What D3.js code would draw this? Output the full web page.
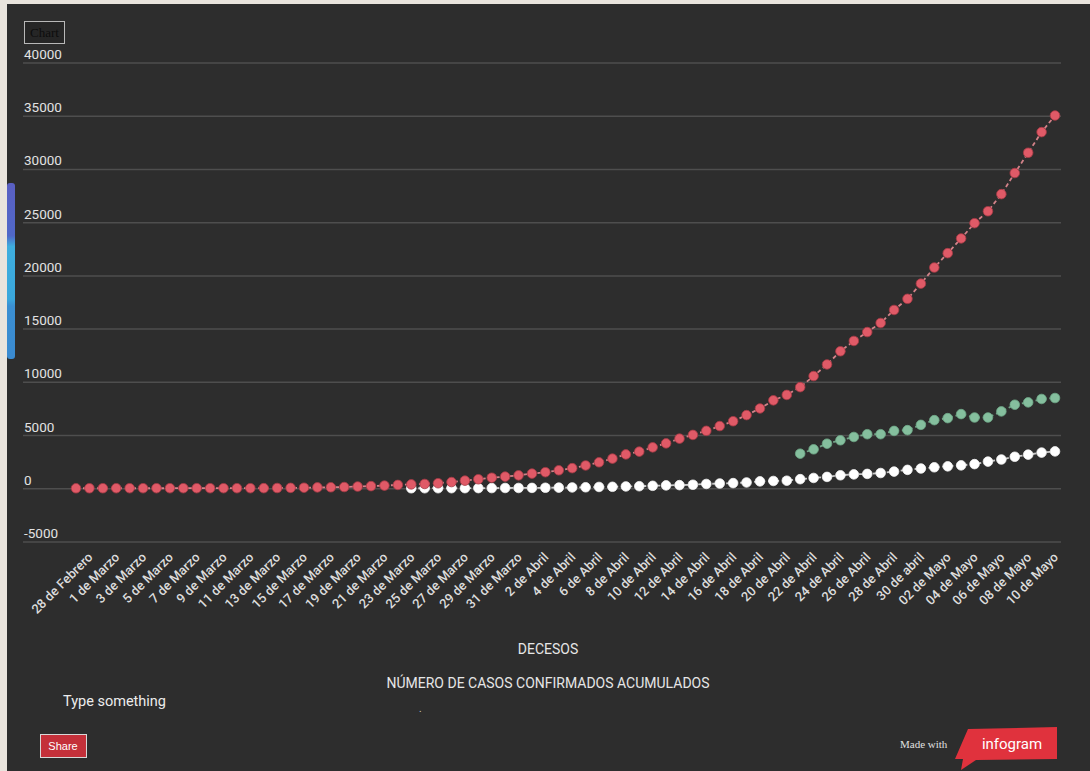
<!DOCTYPE html>
<html>
<head>
<meta charset="utf-8">
<script src="https://cdn.jsdelivr.net/npm/d3@7"></script>
<style>
  html, body { margin: 0; padding: 0; background: #e9e4dd; }
  svg { display: block; }
</style>
</head>
<body>
<svg id="chart" width="1090" height="771"></svg>
<script>
// categorias del eje x (una por dia, se rotula uno si y uno no)
const dias = [
  "28 de Febrero", "29 de Febrero",
  "1 de Marzo", "2 de Marzo", "3 de Marzo", "4 de Marzo", "5 de Marzo", "6 de Marzo", "7 de Marzo",
  "8 de Marzo", "9 de Marzo", "10 de Marzo", "11 de Marzo", "12 de Marzo", "13 de Marzo", "14 de Marzo",
  "15 de Marzo", "16 de Marzo", "17 de Marzo", "18 de Marzo", "19 de Marzo", "20 de Marzo", "21 de Marzo",
  "22 de Marzo", "23 de Marzo", "24 de Marzo", "25 de Marzo", "26 de Marzo", "27 de Marzo", "28 de Marzo",
  "29 de Marzo", "30 de Marzo", "31 de Marzo",
  "1 de Abril", "2 de Abril", "3 de Abril", "4 de Abril", "5 de Abril", "6 de Abril", "7 de Abril",
  "8 de Abril", "9 de Abril", "10 de Abril", "11 de Abril", "12 de Abril", "13 de Abril", "14 de Abril",
  "15 de Abril", "16 de Abril", "17 de Abril", "18 de Abril", "19 de Abril", "20 de Abril", "21 de Abril",
  "22 de Abril", "23 de Abril", "24 de Abril", "25 de Abril", "26 de Abril", "27 de Abril", "28 de Abril",
  "29 de Abril", "30 de abril",
  "01 de Mayo", "02 de Mayo", "03 de Mayo", "04 de Mayo", "05 de Mayo", "06 de Mayo", "07 de Mayo",
  "08 de Mayo", "09 de Mayo", "10 de Mayo", "11 de Mayo"
];

// NUMERO DE CASOS CONFIRMADOS ACUMULADOS (rojo)
const casos = [
  0, 1, 4, 5, 5, 5, 5, 5, 6, 6, 7, 7, 7, 8, 12, 26, 41, 53, 82, 93,
  118, 164, 203, 251, 316, 367, 405, 475, 585, 717, 848, 993, 1094, 1215, 1378, 1510, 1688, 1890, 2143, 2439,
  2785, 3181, 3441, 3844, 4219, 4661, 5014, 5399, 5847, 6297, 6875, 7497, 8261, 8772, 9501, 10544, 11633, 12872, 13842, 14677,
  15529, 16752, 17799, 19224, 20739, 22088, 23471, 24905, 26025, 27634, 29616, 31522, 33460, 35022
];

// DECESOS (blanco)
const decesosDesde = "24 de Marzo";
const decesos = [
  4, 5, 6, 8, 12, 16, 20, 28, 29, 37, 50, 60, 79, 94, 125,
  141, 174, 194, 233, 273, 296, 332, 406, 449, 486, 546, 650, 686, 712, 857, 970, 1069, 1221, 1305, 1351,
  1434, 1569, 1732, 1859, 1972, 2061, 2154, 2271, 2507, 2704, 2961, 3160, 3353, 3465
];

// serie verde (sin rotulo en la leyenda)
const verdeDesde = "22 de Abril";
const verde = [
  3250, 3660, 4190, 4510, 4820, 5080, 5080, 5390, 5460, 5960,
  6400, 6590, 6970, 6650, 6650, 7220, 7850, 8070, 8390, 8480
];

const yTicks = [-5000, 0, 5000, 10000, 15000, 20000, 25000, 30000, 35000, 40000];
const etiquetasX = dias.filter((d, i) => i % 2 === 0);

const leyenda = ["DECESOS", "NÚMERO DE CASOS CONFIRMADOS ACUMULADOS"];

const svg = d3.select("#chart");

// fondo del panel oscuro
svg.append("rect")
  .attr("x", 7).attr("y", 4)
  .attr("width", 1083).attr("height", 767)
  .attr("fill", "#2d2d2d");

// pestana azul a la izquierda
const defs = svg.append("defs");
const grad = defs.append("linearGradient")
  .attr("id", "tab").attr("x1", 0).attr("y1", 0).attr("x2", 0).attr("y2", 1);
grad.append("stop").attr("offset", "0%").attr("stop-color", "#5a5fc2");
grad.append("stop").attr("offset", "30%").attr("stop-color", "#5068c8");
grad.append("stop").attr("offset", "36%").attr("stop-color", "#3eaede");
grad.append("stop").attr("offset", "66%").attr("stop-color", "#3aa7dc");
grad.append("stop").attr("offset", "70%").attr("stop-color", "#3b8fd2");
grad.append("stop").attr("offset", "100%").attr("stop-color", "#3a8ad0");
svg.append("rect")
  .attr("x", 7).attr("y", 183)
  .attr("width", 8).attr("height", 176)
  .attr("rx", 3)
  .attr("fill", "url(#tab)");

// caja "Chart"
svg.append("rect")
  .attr("x", 24.5).attr("y", 21.5)
  .attr("width", 40).attr("height", 22)
  .attr("fill", "#262626")
  .attr("stroke", "#b8b8b8");
svg.append("text")
  .attr("x", 44.5).attr("y", 37)
  .attr("text-anchor", "middle")
  .attr("font-family", "'Liberation Serif', 'DejaVu Serif', serif")
  .attr("font-size", 13)
  .attr("fill", "#0d0d0d")
  .text("Chart");

const x = d3.scalePoint()
  .domain(dias)
  .range([76, 1055]);

const y = d3.scaleLinear()
  .domain([-5000, 40000])
  .range([541.5, 62.5]);

// eje y con lineas de cuadricula
const gridRight = 1061, gridLeft = 23;
const yAxis = svg.append("g")
  .attr("transform", `translate(${gridRight},0)`)
  .call(d3.axisLeft(y)
    .tickValues(yTicks)
    .tickSize(gridRight - gridLeft)
    .tickFormat(d => String(d)));
yAxis.select(".domain").remove();
yAxis.selectAll(".tick line")
  .attr("stroke", "#4e4e4e")
  .attr("stroke-width", 1.5);
yAxis.selectAll(".tick text")
  .attr("x", -(gridRight - gridLeft) + 1)
  .attr("dy", -4)
  .attr("text-anchor", "start")
  .attr("font-family", "Roboto, sans-serif")
  .attr("font-size", 13.5)
  .attr("fill", "#e2e2e2");

// eje x con etiquetas rotadas
const xAxis = svg.append("g")
  .attr("transform", "translate(0,558)")
  .call(d3.axisBottom(x).tickValues(etiquetasX).tickSize(0));
xAxis.select(".domain").remove();
xAxis.selectAll(".tick text")
  .attr("x", 0).attr("y", 0).attr("dy", 0)
  .attr("transform", "translate(17,0) rotate(-45)")
  .attr("text-anchor", "end")
  .attr("font-family", "Roboto, sans-serif")
  .attr("font-size", 13)
  .attr("font-weight", 500)
  .attr("fill", "#dcdcdc");

// series
const inicioDecesos = dias.indexOf(decesosDesde);
const inicioVerde = dias.indexOf(verdeDesde);
const series = [
  { nombre: "decesos", valores: decesos.map((v, i) => ({ dia: dias[inicioDecesos + i], v })),
    fill: "#ffffff", stroke: "#f2f2f2", linea: "rgba(255,255,255,0.75)" },
  { nombre: "verde", valores: verde.map((v, i) => ({ dia: dias[inicioVerde + i], v })),
    fill: "#85bf9e", stroke: "#6fa888", linea: "rgba(133,191,158,0.8)" },
  { nombre: "casos", valores: casos.map((v, i) => ({ dia: dias[i], v })),
    fill: "#e05a67", stroke: "#a73a45", linea: "rgba(228,140,148,0.9)" }
];

const line = d3.line()
  .x(d => x(d.dia))
  .y(d => y(d.v));

series.forEach(s => {
  const g = svg.append("g").attr("class", "serie-" + s.nombre);
  g.append("path")
    .datum(s.valores)
    .attr("d", line)
    .attr("fill", "none")
    .attr("stroke", s.linea)
    .attr("stroke-width", 1.8)
    .attr("stroke-dasharray", "4,3");
  g.selectAll("circle")
    .data(s.valores)
    .enter()
    .append("circle")
    .attr("cx", d => x(d.dia))
    .attr("cy", d => y(d.v))
    .attr("r", 4.8)
    .attr("fill", s.fill)
    .attr("stroke", s.stroke)
    .attr("stroke-width", 0.8);
});

// leyenda (solo texto)
svg.selectAll(".leyenda")
  .data(leyenda)
  .enter()
  .append("text")
  .attr("class", "leyenda")
  .attr("x", 548)
  .attr("y", (d, i) => 654 + i * 34)
  .attr("text-anchor", "middle")
  .attr("font-family", "Roboto, sans-serif")
  .attr("font-size", 14)
  .attr("fill", "#e6e6e6")
  .text(d => d);

svg.append("text")
  .attr("x", 63).attr("y", 706)
  .attr("font-family", "Roboto, sans-serif")
  .attr("font-size", 14.5)
  .attr("fill", "#ececec")
  .text("Type something");

svg.append("text")
  .attr("x", 419).attr("y", 712)
  .attr("font-family", "Roboto, sans-serif")
  .attr("font-size", 10)
  .attr("fill", "#cccccc")
  .text(".");

// boton Share
svg.append("rect")
  .attr("x", 40.5).attr("y", 734.5)
  .attr("width", 46).attr("height", 23)
  .attr("fill", "#c4303a")
  .attr("stroke", "#d8d8d8");
svg.append("text")
  .attr("x", 63).attr("y", 750)
  .attr("text-anchor", "middle")
  .attr("font-family", "'Liberation Sans Narrow', 'Liberation Sans', sans-serif")
  .attr("font-size", 11)
  .attr("fill", "#ffffff")
  .text("Share");

// marca "Made with infogram"
svg.append("text")
  .attr("x", 900).attr("y", 748)
  .attr("font-family", "'Liberation Serif', serif")
  .attr("font-size", 11)
  .attr("fill", "#e0e0e0")
  .text("Made with");
svg.append("path")
  .attr("d", "M968,729 L1057,727 L1057,759 L976,760 L961,770 L963,759 L955,759 Z")
  .attr("fill", "#e0323d");
svg.append("text")
  .attr("x", 1012).attr("y", 749)
  .attr("text-anchor", "middle")
  .attr("font-family", "Roboto, sans-serif")
  .attr("font-size", 15)
  .attr("fill", "#ffffff")
  .text("infogram");
</script>
</body>
</html>
